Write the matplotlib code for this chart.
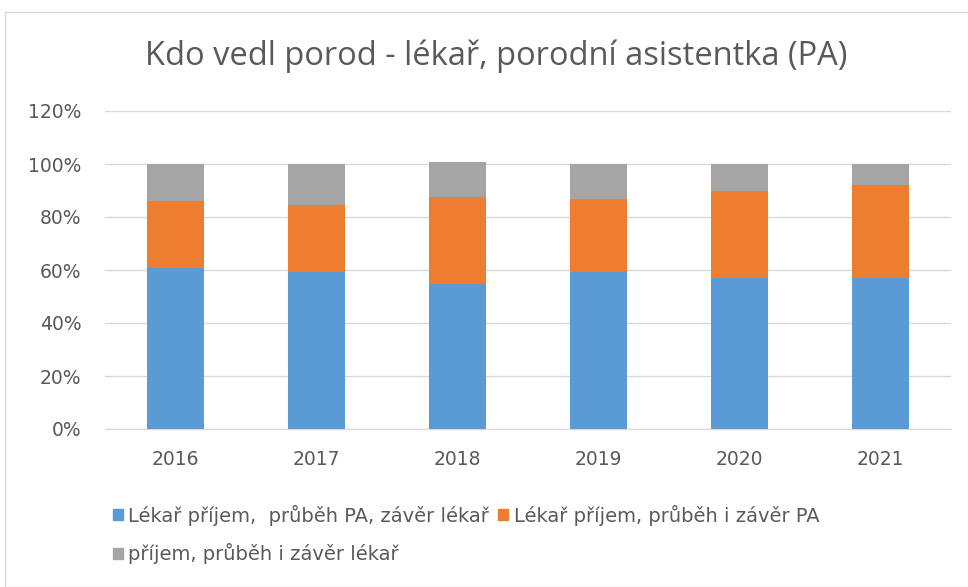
import matplotlib
matplotlib.use("Agg")
import matplotlib.pyplot as plt
from matplotlib.patches import Rectangle, Patch
from matplotlib.ticker import FuncFormatter

years = ["2016", "2017", "2018", "2019", "2020", "2021"]
lekar_pa_lekar = [0.608, 0.592, 0.547, 0.592, 0.570, 0.570]
lekar_pa_pa = [0.252, 0.253, 0.327, 0.275, 0.328, 0.351]
lekar_vse = [0.140, 0.155, 0.133, 0.133, 0.102, 0.079]
series_labels = ["Lékař příjem,  průběh PA, závěr lékař",
                 "Lékař příjem, průběh i závěr PA",
                 "příjem, průběh i závěr lékař"]
title = "Kdo vedl porod - lékař, porodní asistentka (PA)"

colors = ["#5B9BD5", "#ED7D31", "#A5A5A5"]
txt = "#595959"
plt.rcParams['font.family'] = ['DejaVu Sans']

fig = plt.figure(figsize=(9.68, 5.87), dpi=100)
ax = fig.add_axes([105/968, 1-429/587, (951-105)/968, (429-111)/587])

x = list(range(len(years)))
bottom2 = lekar_pa_lekar
bottom3 = [a + b for a, b in zip(lekar_pa_lekar, lekar_pa_pa)]
w = 0.4
ax.bar(x, lekar_pa_lekar, w, color=colors[0], zorder=3)
ax.bar(x, lekar_pa_pa, w, bottom=bottom2, color=colors[1], zorder=3)
ax.bar(x, lekar_vse, w, bottom=bottom3, color=colors[2], zorder=3)

ax.set_xlim(-0.5, len(years) - 0.5)
ax.set_ylim(0, 1.2)
ax.set_yticks([i * 0.2 for i in range(7)])
ax.yaxis.set_major_formatter(FuncFormatter(lambda v, p: f"{v*100:.0f}%"))
ax.set_xticks(x)
ax.set_xticklabels(years)
ax.grid(axis='y', color='#D9D9D9', lw=1, zorder=0)
for s in ['top', 'right', 'left']:
    ax.spines[s].set_visible(False)
ax.spines['bottom'].set_color('#D9D9D9')
ax.tick_params(axis='both', length=0, colors=txt, labelsize=13.5)
ax.tick_params(axis='y', pad=17)
ax.tick_params(axis='x', pad=15)

fig.text(0.513, 1-56/587, title, ha='center', va='center', fontsize=23.5,
         color=txt, family=['Open Sans', 'DejaVu Sans'])

handles = [Patch(color=colors[0]), Patch(color=colors[2]), Patch(color=colors[1])]
labs = [series_labels[0], series_labels[2], series_labels[1]]
fig.legend(handles, labs, ncol=2, loc='upper left', bbox_to_anchor=(105/968, 1-497/587),
           frameon=False, fontsize=14, labelcolor=txt, handlelength=0.5, handleheight=0.5,
           handletextpad=0.3, columnspacing=0.45, labelspacing=0.9, borderaxespad=0)

fig.patches.append(Rectangle((5/968, 0.0), 1.2, 1-12/587, transform=fig.transFigure,
                             fill=False, edgecolor='#D9D9D9', lw=1))
fig.savefig("out.png", dpi=100)
